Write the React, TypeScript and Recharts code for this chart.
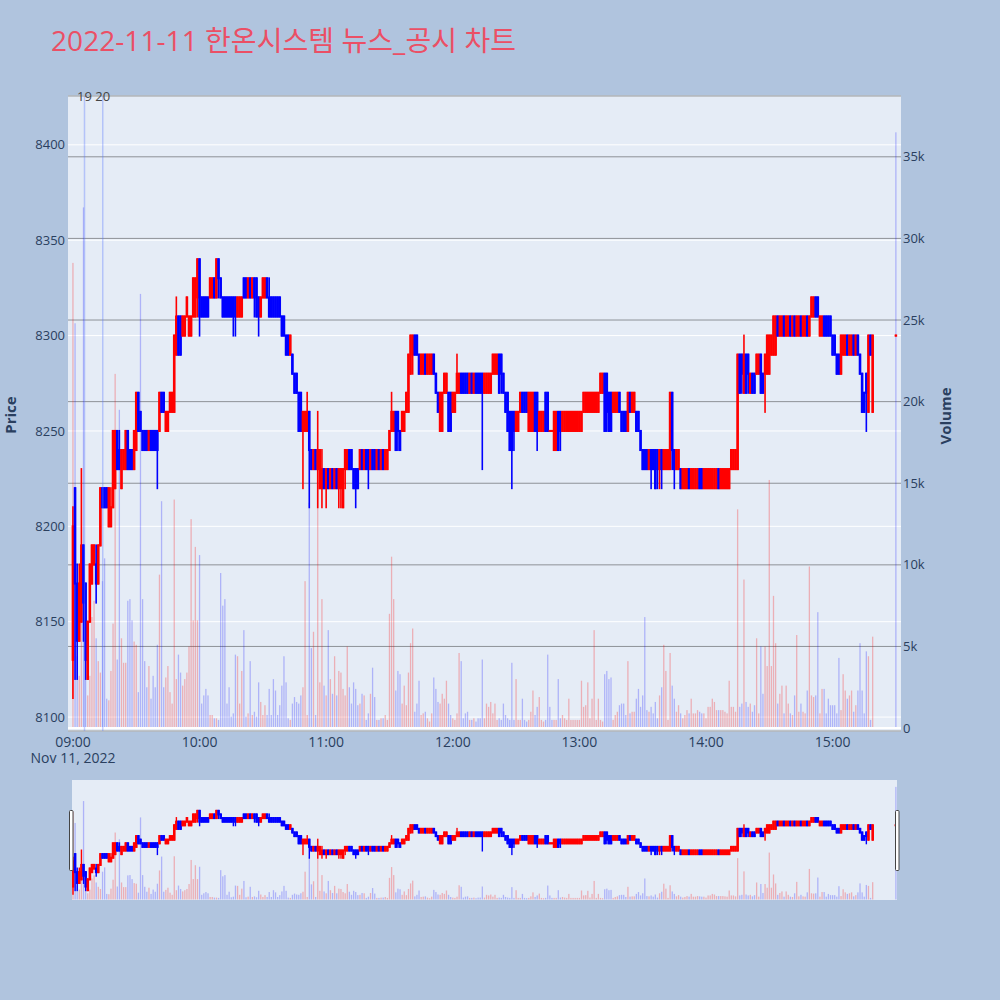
import React from 'react';
import { ComposedChart, Bar, XAxis, YAxis, CartesianGrid, ReferenceLine } from 'recharts';

const TITLE = '2022-11-11 한온시스템 뉴스_공시 차트';
const DATE_LABEL = 'Nov 11, 2022';

// one row per minute starting 09:00 : [open, high, low, close]
// the last row is the 15:30 closing auction
const ohlc: number[][] = [
  [8130,8210,8110,8200],[8220,8220,8120,8170],[8170,8180,8120,8140],[8140,8180,8140,8170],[8150,8230,8150,8190],[8190,8190,8140,8160],[8170,8170,8120,8130],[8120,8150,8120,8150],[8150,8180,8150,8180],[8170,8190,8170,8190],
  [8180,8190,8180,8190],[8180,8190,8160,8170],[8170,8190,8170,8190],[8190,8220,8190,8220],[8220,8220,8210,8210],[8220,8220,8210,8210],[8220,8220,8210,8210],[8200,8220,8200,8220],[8200,8220,8200,8210],[8210,8250,8210,8250],
  [8220,8250,8220,8250],[8250,8250,8230,8230],[8240,8250,8230,8230],[8220,8240,8220,8240],[8230,8240,8230,8240],[8230,8250,8230,8250],[8250,8250,8230,8230],[8240,8240,8230,8230],[8240,8240,8230,8230],[8230,8250,8230,8250],
  [8240,8270,8240,8270],[8270,8270,8250,8250],[8260,8260,8250,8250],[8250,8250,8240,8240],[8250,8250,8240,8240],[8250,8250,8240,8240],[8240,8250,8240,8250],[8250,8250,8240,8240],[8250,8250,8240,8240],[8250,8250,8240,8240],
  [8250,8250,8220,8240],[8250,8270,8250,8270],[8270,8270,8260,8260],[8270,8270,8260,8260],[8250,8260,8250,8260],[8250,8260,8250,8260],[8260,8270,8260,8270],[8260,8270,8260,8270],[8260,8300,8260,8300],[8290,8320,8290,8310],
  [8310,8310,8290,8290],[8310,8310,8290,8290],[8300,8310,8300,8310],[8300,8310,8300,8310],[8310,8320,8310,8320],[8300,8310,8300,8310],[8300,8310,8300,8310],[8310,8330,8310,8330],[8310,8330,8310,8330],[8320,8340,8310,8340],
  [8340,8340,8300,8310],[8320,8320,8310,8310],[8320,8320,8310,8310],[8320,8320,8310,8310],[8320,8320,8310,8310],[8320,8330,8320,8330],[8320,8330,8320,8330],[8330,8330,8320,8320],[8320,8340,8320,8340],[8340,8340,8320,8330],
  [8330,8330,8320,8320],[8320,8320,8310,8310],[8320,8320,8310,8310],[8320,8320,8310,8310],[8320,8320,8310,8310],[8320,8320,8310,8310],[8320,8320,8300,8310],[8320,8320,8300,8310],[8310,8320,8310,8320],[8310,8320,8310,8320],
  [8310,8320,8310,8320],[8330,8330,8320,8320],[8330,8330,8320,8320],[8320,8330,8320,8330],[8330,8330,8320,8320],[8320,8330,8320,8330],[8330,8330,8310,8320],[8330,8330,8310,8310],[8320,8320,8300,8310],[8310,8320,8310,8320],
  [8320,8330,8320,8330],[8320,8330,8320,8330],[8330,8330,8320,8320],[8320,8330,8310,8310],[8320,8320,8310,8310],[8320,8320,8310,8310],[8320,8320,8310,8310],[8320,8320,8310,8310],[8320,8320,8310,8310],[8310,8310,8300,8300],
  [8310,8310,8300,8300],[8300,8300,8290,8290],[8300,8300,8290,8290],[8290,8300,8290,8300],[8290,8290,8280,8280],[8280,8280,8270,8270],[8280,8280,8270,8270],[8270,8270,8250,8250],[8270,8270,8250,8250],[8250,8260,8220,8260],
  [8250,8260,8250,8260],[8250,8270,8250,8260],[8260,8260,8210,8240],[8240,8240,8230,8230],[8230,8240,8230,8240],[8240,8240,8230,8230],[8230,8260,8210,8240],[8220,8240,8220,8240],[8220,8240,8210,8230],[8230,8230,8220,8220],
  [8220,8230,8210,8230],[8230,8230,8220,8220],[8220,8230,8220,8230],[8230,8230,8220,8220],[8220,8230,8220,8230],[8230,8230,8220,8220],[8220,8230,8210,8230],[8220,8230,8210,8230],[8210,8230,8210,8230],[8230,8240,8220,8240],
  [8230,8240,8230,8240],[8240,8240,8230,8230],[8240,8240,8230,8230],[8230,8230,8220,8220],[8230,8230,8210,8220],[8230,8230,8220,8220],[8230,8240,8230,8240],[8240,8240,8230,8230],[8230,8240,8230,8240],[8240,8240,8230,8230],
  [8240,8240,8220,8230],[8230,8240,8230,8240],[8240,8240,8230,8230],[8240,8240,8230,8230],[8230,8240,8230,8240],[8240,8240,8230,8230],[8230,8240,8230,8240],[8240,8240,8230,8230],[8230,8240,8230,8240],[8230,8240,8230,8240],
  [8240,8250,8240,8250],[8250,8270,8250,8260],[8250,8260,8250,8260],[8260,8260,8240,8240],[8260,8260,8240,8250],[8250,8250,8240,8240],[8250,8260,8250,8260],[8250,8260,8250,8260],[8260,8270,8260,8270],[8260,8290,8260,8290],
  [8280,8300,8280,8300],[8290,8300,8280,8300],[8300,8300,8290,8290],[8300,8300,8290,8290],[8290,8290,8280,8280],[8280,8290,8280,8290],[8280,8290,8280,8290],[8290,8290,8280,8280],[8280,8290,8280,8290],[8280,8290,8280,8290],
  [8280,8290,8280,8290],[8290,8290,8280,8280],[8280,8280,8270,8270],[8270,8270,8260,8260],[8250,8270,8250,8270],[8250,8270,8250,8270],[8270,8280,8270,8280],[8270,8280,8270,8280],[8270,8270,8250,8250],[8270,8270,8250,8250],
  [8260,8270,8260,8270],[8260,8270,8260,8270],[8270,8290,8270,8280],[8270,8280,8270,8280],[8280,8280,8270,8270],[8280,8280,8270,8270],[8280,8280,8270,8270],[8280,8280,8270,8270],[8270,8280,8270,8280],[8280,8280,8270,8270],
  [8270,8280,8270,8280],[8280,8280,8270,8270],[8280,8280,8270,8270],[8280,8280,8270,8270],[8280,8280,8230,8270],[8270,8280,8270,8280],[8270,8280,8270,8280],[8270,8280,8270,8280],[8270,8280,8270,8280],[8280,8290,8280,8290],
  [8280,8290,8280,8290],[8280,8290,8280,8290],[8290,8290,8270,8270],[8290,8290,8270,8280],[8280,8280,8270,8270],[8270,8270,8260,8260],[8270,8270,8250,8250],[8260,8260,8240,8240],[8260,8260,8220,8240],[8260,8260,8240,8250],
  [8250,8260,8250,8260],[8250,8260,8250,8260],[8260,8270,8260,8270],[8270,8270,8260,8260],[8270,8270,8260,8260],[8270,8270,8260,8260],[8250,8270,8250,8270],[8250,8270,8250,8270],[8250,8270,8250,8270],[8270,8270,8250,8250],
  [8270,8270,8240,8250],[8250,8260,8250,8260],[8250,8260,8250,8260],[8250,8260,8250,8260],[8270,8270,8250,8250],[8270,8270,8250,8250],[8250,8250,8250,8250],[8250,8250,8250,8250],[8240,8260,8240,8260],[8240,8260,8240,8260],
  [8260,8260,8240,8240],[8260,8260,8240,8250],[8250,8260,8250,8260],[8250,8260,8250,8260],[8250,8260,8250,8260],[8250,8260,8250,8260],[8250,8260,8250,8260],[8250,8260,8250,8260],[8250,8260,8250,8260],[8250,8260,8250,8260],
  [8250,8260,8250,8260],[8250,8260,8250,8260],[8260,8270,8260,8270],[8260,8270,8260,8270],[8260,8270,8260,8270],[8260,8270,8260,8270],[8260,8270,8260,8270],[8260,8270,8260,8270],[8260,8270,8260,8270],[8260,8270,8260,8270],
  [8270,8280,8270,8280],[8270,8280,8270,8280],[8280,8280,8250,8250],[8280,8280,8250,8260],[8270,8270,8250,8250],[8270,8270,8250,8250],[8260,8270,8260,8270],[8260,8270,8260,8270],[8260,8270,8260,8270],[8270,8270,8260,8260],
  [8260,8260,8250,8250],[8260,8260,8250,8250],[8260,8260,8250,8250],[8250,8270,8250,8270],[8270,8270,8260,8260],[8260,8270,8260,8270],[8260,8270,8260,8270],[8260,8260,8250,8250],[8260,8260,8250,8250],[8250,8250,8240,8240],
  [8240,8240,8230,8230],[8240,8240,8230,8230],[8240,8240,8230,8230],[8230,8240,8230,8240],[8240,8240,8220,8230],[8240,8240,8230,8230],[8240,8240,8220,8220],[8240,8240,8220,8230],[8230,8240,8220,8240],[8240,8240,8220,8230],
  [8230,8240,8230,8240],[8230,8240,8230,8240],[8230,8240,8230,8240],[8230,8270,8230,8270],[8270,8270,8230,8240],[8240,8240,8220,8230],[8230,8240,8230,8240],[8230,8240,8230,8240],[8230,8230,8220,8220],[8220,8230,8220,8230],
  [8220,8230,8220,8230],[8220,8230,8220,8230],[8230,8230,8220,8220],[8220,8230,8220,8230],[8220,8230,8220,8230],[8220,8230,8220,8230],[8220,8230,8220,8230],[8230,8230,8220,8220],[8230,8230,8220,8220],[8220,8230,8220,8230],
  [8220,8230,8220,8230],[8220,8230,8220,8230],[8220,8230,8220,8230],[8220,8230,8220,8230],[8220,8230,8220,8230],[8220,8230,8220,8230],[8230,8230,8220,8220],[8220,8230,8220,8230],[8220,8230,8220,8230],[8220,8230,8220,8230],
  [8220,8230,8220,8230],[8220,8230,8220,8230],[8230,8240,8230,8240],[8230,8240,8230,8240],[8230,8240,8230,8240],[8230,8290,8230,8290],[8290,8290,8270,8270],[8290,8290,8270,8280],[8270,8300,8270,8290],[8290,8290,8270,8270],
  [8290,8290,8270,8280],[8270,8280,8270,8280],[8280,8280,8270,8270],[8280,8280,8270,8270],[8280,8290,8280,8290],[8280,8290,8280,8290],[8290,8290,8270,8270],[8280,8280,8270,8270],[8280,8290,8260,8290],[8280,8300,8280,8300],
  [8280,8300,8280,8300],[8290,8300,8290,8300],[8290,8310,8290,8310],[8290,8310,8290,8310],[8310,8310,8300,8300],[8300,8310,8300,8310],[8300,8310,8300,8310],[8310,8310,8300,8300],[8300,8310,8300,8310],[8300,8310,8300,8310],
  [8310,8310,8300,8300],[8300,8310,8300,8310],[8310,8310,8300,8300],[8300,8310,8300,8310],[8300,8310,8300,8310],[8310,8310,8300,8300],[8300,8310,8300,8310],[8300,8310,8300,8310],[8310,8310,8300,8300],[8300,8310,8300,8310],
  [8310,8320,8310,8320],[8310,8320,8310,8320],[8320,8320,8310,8310],[8320,8320,8310,8310],[8300,8310,8300,8310],[8300,8310,8300,8310],[8310,8310,8300,8300],[8310,8310,8300,8300],[8310,8310,8300,8300],[8310,8310,8300,8300],
  [8300,8300,8290,8290],[8300,8300,8290,8290],[8290,8290,8280,8280],[8290,8290,8280,8280],[8280,8300,8280,8300],[8290,8300,8290,8300],[8290,8300,8290,8300],[8300,8300,8290,8290],[8290,8300,8290,8300],[8290,8300,8290,8300],
  [8300,8300,8290,8290],[8290,8300,8290,8300],[8300,8300,8290,8290],[8290,8290,8280,8280],[8280,8280,8260,8260],[8270,8270,8260,8260],[8280,8280,8250,8270],[8260,8300,8260,8300],[8300,8300,8290,8290],[8260,8300,8260,8300],
  [8300,8300,8300,8300],
];

const volumes: number[] = [
  28500,24800,4400,3200,7900,31900,6800,2000,3200,6800,
  7800,5500,4100,3400,9000,10400,1800,1700,3500,6400,
  21700,4200,19500,5500,4000,4000,7800,7900,6600,5300,
  5100,2200,26600,7900,4100,2500,3800,1800,3200,2500,
  5100,9400,13900,2500,3100,3800,2200,1500,14000,3000,
  4500,3400,2600,3000,3400,5000,12800,6600,11100,6600,
  10600,1500,2000,2400,2000,800,800,600,600,500,
  9500,7500,7900,1500,2500,700,900,4500,4400,1500,
  3500,6000,700,900,4100,800,1000,700,2800,1600,
  800,1400,800,2400,800,3000,2300,800,1400,2600,
  4400,2800,600,500,1500,1900,1600,1500,2000,2500,
  9000,800,13800,4900,5900,800,14900,2800,7900,2600,
  2000,6000,3000,2100,4400,2000,3500,3400,2400,2000,
  5000,2500,1500,2800,2400,1400,1500,2100,2000,500,
  900,2100,3700,1900,500,500,600,600,800,500,
  7000,10500,7900,2300,3500,3300,1500,2600,1400,3400,
  5200,6100,1000,1500,2900,800,900,1000,600,400,
  900,3100,2400,1600,1500,2100,1800,2900,1500,800,
  600,500,900,4600,4100,600,900,1000,500,500,
  600,400,600,600,4200,600,1500,1300,1600,900,
  1500,500,600,500,1500,800,600,500,4000,500,
  3000,500,500,1800,500,400,500,1000,2300,800,
  1300,1900,500,400,500,4500,1300,500,500,500,
  3000,600,800,600,500,1800,500,500,500,500,
  500,2900,1300,1400,2800,600,1800,6000,500,1800,
  500,400,3300,3500,3000,3100,500,800,1000,1400,
  1500,1500,800,4100,900,1000,1000,1800,2400,1300,
  2000,6800,1100,1000,1300,900,1600,600,2000,2500,
  5100,3500,500,4600,2600,1800,1000,1400,900,600,
  800,1100,900,1800,900,900,1100,1000,900,900,
  600,1300,1300,1800,1600,1100,1100,1100,1100,1000,
  900,2900,1300,1300,1000,13400,1300,1500,9100,1600,
  1300,1500,1000,1400,5500,900,5000,2100,5000,3800,
  15200,3800,8100,5200,1500,2100,2600,900,2600,1500,
  900,800,2000,5700,1000,1500,1000,900,2300,9900,
  2000,1900,2000,7100,900,2400,2400,900,1800,1400,
  1400,1400,900,4300,1100,3300,2300,1800,2000,2300,
  1000,1400,2300,5200,2300,900,4700,4400,500,5600,
  36500,
];

const AUCTION_MINUTE = 390; // 15:30

const hourTicks = [0, 60, 120, 180, 240, 300, 360];
const priceTicks = [8100, 8150, 8200, 8250, 8300, 8350, 8400];
const volumeTicks = [0, 5000, 10000, 15000, 20000, 25000, 30000, 35000];

// news / disclosure markers (minutes after 09:00)
const newsLabels = ['19', '20'];
const newsMinutes = [5.45, 14.1];

const PAGE_BG = '#b0c4de';
const PLOT_BG = '#e5ecf6';
const UP = '#ff0000';
const DOWN = '#0000ff';
const VOL_UP = 'rgba(255,0,0,0.26)';
const VOL_DOWN = 'rgba(0,0,255,0.24)';
const TEXT = '#2a3f5f';
const FONT = '"Open Sans", verdana, arial, sans-serif';

const X_DOMAIN: [number, number] = [-2.37, 392.4];
const SLIDER_X_DOMAIN: [number, number] = [-0.5, 390.5];
const PRICE_DOMAIN: [number, number] = [8092.7, 8425.6];
const VOL_DOMAIN: [number, number] = [-180, 38725];

const rows = ohlc.map((row, i) => {
  const [open, high, low, close] = row;
  const prevClose = i > 0 ? ohlc[i - 1][3] : open;
  return {
    t: i < ohlc.length - 1 ? i : AUCTION_MINUTE,
    open,
    high,
    low,
    close,
    range: [low, high],
    vol: volumes[i],
    up: close > open || (close === open && close >= prevClose),
    volUp: close > open,
  };
});

const hhmm = (m: number) =>
  `${String(9 + Math.floor(m / 60)).padStart(2, '0')}:${String(m % 60).padStart(2, '0')}`;

const makeCandle = (bodyW: number, wickW: number) => (props: any) => {
  const { x, width, payload } = props;
  let { y, height } = props;
  if (!payload || y == null || x == null) return null;
  if (height < 0) {
    y += height;
    height = -height;
  }
  const cx = x + width / 2;
  const span = payload.high - payload.low;
  const k = span > 0 ? height / span : 0;
  const yOpen = y + (payload.high - payload.open) * k;
  const yClose = y + (payload.high - payload.close) * k;
  const color = payload.up ? UP : DOWN;
  return (
    <g>
      <rect x={cx - wickW / 2} y={y - 1} width={wickW} height={height + 2} fill={color} />
      <rect
        x={cx - bodyW / 2}
        y={Math.min(yOpen, yClose) - 1}
        width={bodyW}
        height={Math.abs(yOpen - yClose) + 2}
        fill={color}
      />
    </g>
  );
};

const makeVolume = (w: number) => (props: any) => {
  const { x, width, payload } = props;
  let { y, height } = props;
  if (!payload || y == null || x == null) return null;
  if (height < 0) {
    y += height;
    height = -height;
  }
  const cx = x + width / 2;
  return <rect x={cx - w / 2} y={y} width={w} height={height} fill={payload.volUp ? VOL_UP : VOL_DOWN} />;
};

// hour label; the first one carries the date on a second line
const TimeTick = (props: any) => {
  const { x, y, payload } = props;
  return (
    <text x={x} y={y} textAnchor="middle" fill={TEXT} fontSize={14} fontFamily={FONT}>
      <tspan x={x} dy={10}>
        {hhmm(payload.value)}
      </tspan>
      {payload.value === 0 && (
        <tspan x={x} dy={16}>
          {DATE_LABEL}
        </tspan>
      )}
    </text>
  );
};

const mainCandle = makeCandle(2.6, 1.6);
const mainVolume = makeVolume(1.3);
const sliderCandle = makeCandle(2.6, 1.4);
const sliderVolume = makeVolume(1.3);

const App: React.FC = () => {
  return (
    <div
      style={{
        position: 'absolute',
        left: 0,
        top: 0,
        width: 1000,
        height: 1000,
        background: PAGE_BG,
        overflow: 'hidden',
        fontFamily: FONT,
      }}
    >
      {/* main price + volume panel */}
      <div style={{ position: 'absolute', left: 0, top: 0 }}>
        <ComposedChart width={1000} height={780} data={rows} margin={{ top: 96, right: 39, bottom: 19, left: 8 }}>
          <CartesianGrid xAxisId="t" yAxisId="price" vertical={false} stroke="#ffffff" fill={PLOT_BG} fillOpacity={1} />
          <CartesianGrid xAxisId="t" yAxisId="vol" vertical={false} stroke="#8e9297" />
          <XAxis
            xAxisId="t"
            type="number"
            dataKey="t"
            domain={X_DOMAIN}
            allowDataOverflow
            ticks={hourTicks}
            interval={0}
            tick={<TimeTick />}
            tickLine={false}
            axisLine={false}
            tickSize={0}
            tickMargin={6}
            height={30}
          />
          <XAxis xAxisId="v" type="number" dataKey="t" domain={X_DOMAIN} allowDataOverflow hide />
          <YAxis
            yAxisId="price"
            orientation="left"
            width={60}
            domain={PRICE_DOMAIN}
            allowDataOverflow
            ticks={priceTicks}
            interval={0}
            tick={{ fill: TEXT, fontSize: 13, fontFamily: FONT }}
            tickLine={false}
            axisLine={false}
            tickSize={0}
            tickMargin={3}
          />
          <YAxis
            yAxisId="vol"
            orientation="right"
            width={60}
            domain={VOL_DOMAIN}
            allowDataOverflow
            ticks={volumeTicks}
            interval={0}
            tickFormatter={(v: number) => (v === 0 ? '0' : `${v / 1000}k`)}
            tick={{ fill: TEXT, fontSize: 13, fontFamily: FONT }}
            tickLine={false}
            axisLine={false}
            tickSize={0}
            tickMargin={2}
          />
          <Bar xAxisId="v" yAxisId="vol" dataKey="vol" barSize={2} shape={mainVolume} isAnimationActive={false} />
          <ReferenceLine xAxisId="v" yAxisId="vol" y={0} stroke="#ffffff" strokeWidth={2} />
          {newsMinutes.map((m, i) => (
            <ReferenceLine
              key={newsLabels[i]}
              xAxisId="t"
              yAxisId="price"
              x={m}
              stroke="rgba(90,120,255,0.35)"
              strokeWidth={1.5}
              label={{ value: newsLabels[i], position: 'top', offset: -5, fill: '#444', fontSize: 13, fontFamily: FONT }}
            />
          ))}
          <Bar xAxisId="t" yAxisId="price" dataKey="range" barSize={2} shape={mainCandle} isAnimationActive={false} />
        </ComposedChart>
      </div>

      {/* range slider */}
      <div style={{ position: 'absolute', left: 0, top: 780 }}>
        <ComposedChart width={1000} height={120} data={rows} margin={{ top: 0, right: 103, bottom: 0, left: 72 }}>
          <CartesianGrid xAxisId="t" yAxisId="price" horizontal={false} vertical={false} fill={PLOT_BG} fillOpacity={1} />
          <XAxis xAxisId="t" type="number" dataKey="t" domain={SLIDER_X_DOMAIN} allowDataOverflow hide />
          <XAxis xAxisId="v" type="number" dataKey="t" domain={SLIDER_X_DOMAIN} allowDataOverflow hide />
          <YAxis yAxisId="price" domain={PRICE_DOMAIN} allowDataOverflow hide />
          <YAxis yAxisId="vol" domain={VOL_DOMAIN} allowDataOverflow hide />
          <Bar xAxisId="v" yAxisId="vol" dataKey="vol" barSize={2} shape={sliderVolume} isAnimationActive={false} />
          <Bar xAxisId="t" yAxisId="price" dataKey="range" barSize={2} shape={sliderCandle} isAnimationActive={false} />
        </ComposedChart>
      </div>

      {/* title, axis titles and slider handles */}
      <svg width={1000} height={1000} style={{ position: 'absolute', left: 0, top: 0, pointerEvents: 'none' }}>
        <text
          x={51}
          y={51}
          fontSize={28}
          fill="#eb4f65"
          fontFamily='"Open Sans", "Noto Sans CJK KR", sans-serif'
          textLength={465}
          lengthAdjust="spacing"
        >
          {TITLE}
        </text>
        <text
          transform="translate(10,415) rotate(-90)"
          textAnchor="middle"
          dominantBaseline="central"
          fontSize={15}
          fontWeight="bold"
          fill={TEXT}
          fontFamily={FONT}
        >
          Price
        </text>
        <text
          transform="translate(945,416) rotate(-90)"
          textAnchor="middle"
          dominantBaseline="central"
          fontSize={15}
          fontWeight="bold"
          fill={TEXT}
          fontFamily={FONT}
        >
          Volume
        </text>
        <rect x={69.5} y={810.5} width={3.5} height={60} rx={1} fill="#ffffff" stroke="#444" strokeWidth={1} />
        <rect x={895.5} y={810.5} width={3.5} height={60} rx={1} fill="#ffffff" stroke="#444" strokeWidth={1} />
      </svg>
    </div>
  );
};

export default App;
